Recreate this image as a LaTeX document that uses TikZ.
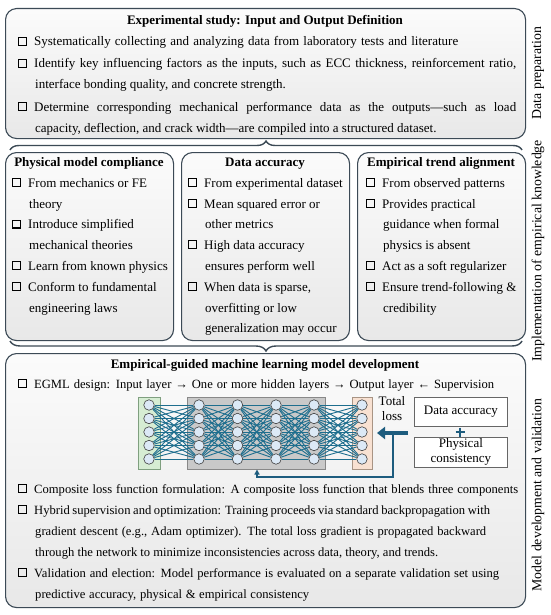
\documentclass[tikz,border=0pt]{standalone}
\usepackage{fontspec}
\setmainfont{Liberation Serif}
\usetikzlibrary{arrows.meta,decorations.pathreplacing}
\pgfdeclarelayer{back}
\pgfdeclarelayer{mid}
\pgfsetlayers{back,mid,main}
\definecolor{edgec}{HTML}{3C4A56}
\definecolor{netc}{HTML}{1E6E8E}
\definecolor{arrc}{HTML}{1D5C7E}
\definecolor{neuf}{HTML}{DCE9F6}
\definecolor{grnf}{HTML}{D6EDD3}
\definecolor{grnd}{HTML}{7F9F7F}
\definecolor{hidf}{HTML}{C9C9C9}
\definecolor{hidd}{HTML}{888888}
\definecolor{orgf}{HTML}{F8E1D2}
\definecolor{orgd}{HTML}{A89484}
\newcommand\fsz{\fontsize{13pt}{15pt}\selectfont}
\newcommand\fsb{\fontsize{12.6pt}{15pt}\selectfont}
\newcommand\fss{\fontsize{13.8pt}{16pt}\selectfont}
\newcommand\myBI[4]{\node[bul] (#1b) at ({#2-11.5},{#3-4.4}) {}; \node[txt] (#1) at (#2,#3) {#4};}
\newcommand\myBJ[5]{\node[bul] (#1b) at ({#2-11.5},{#3-4.4}) {}; \node[txt] (#1) at (#2,#3) {\hbox to #4pt{#5}};}
\newcommand\myTL[4]{\node[txt] (#1) at (#2,#3) {#4};}
\newcommand\myJL[5]{\node[txt] (#1) at (#2,#3) {\hbox to #4pt{#5}};}
\newcommand\myBB[5]{\node[bul] (#1b) at ({#2-11.5},{#3-4.4}) {}; \node[txt,font=\fsb] (#1) at (#2,#3) {\hbox to #4pt{#5}};}
\newcommand\myJB[5]{\node[txt,font=\fsb] (#1) at (#2,#3) {\hbox to #4pt{#5}};}
\begin{document}
\begin{tikzpicture}[x=1pt,y=-1pt,
  txt/.style={anchor=base west,inner sep=0pt,font=\fsz},
  ttl/.style={anchor=base,inner sep=0pt,font=\fsz\bfseries},
  bul/.style={draw=black,line width=1.4pt,minimum size=7.8pt,inner sep=0pt,shape=rectangle},
  bigbox/.style={draw=edgec,line width=1.1pt,rounded corners=11pt,top color=gray!3,bottom color=gray!18,anchor=north west,inner sep=0pt},
  brc/.style={draw=edgec,line width=1.4pt,decorate},
  side/.style={rotate=90,font=\fss,inner sep=0pt},
  neu/.style={circle,draw=black!75,fill=neuf,line width=0.6pt,minimum size=10.5pt,inner sep=0pt},
  syn/.style={draw=netc,line width=0.9pt},
  lay/.style={anchor=north west,inner sep=0pt,line width=0.8pt,minimum height=72pt},
  small/.style={draw=black!60,fill=white,line width=0.7pt,anchor=north west,inner sep=0pt,font=\fsz,align=center,minimum width=93pt}
]
\useasboundingbox (0,0) rectangle (550,615);
\begin{pgfonlayer}{back}
\fill[white] (0,0) rectangle (550,615);
\node[bigbox,minimum width=520pt,minimum height=130pt] (topbox) at (5,8) {};
\node[bigbox,minimum width=168pt,minimum height=188pt] (leftbox) at (5,152) {};
\node[bigbox,minimum width=168pt,minimum height=188pt] (midbox) at (181,152) {};
\node[bigbox,minimum width=168pt,minimum height=188pt] (rightbox) at (357,152) {};
\node[bigbox,minimum width=520pt,minimum height=254pt] (botbox) at (5,353) {};
\node[lay,draw=grnd,fill=grnf,minimum width=22pt] (inl) at (138,397) {};
\node[lay,draw=hidd,fill=hidf,minimum width=138pt] (hidl) at (187,397) {};
\node[lay,draw=orgd,fill=orgf,minimum width=20pt] (outl) at (352,397) {};
\end{pgfonlayer}

% braces
\draw[brc,decoration={brace,amplitude=9pt}] (10,150) -- (522,150);
\draw[brc,decoration={brace,amplitude=10pt}] (522,341) -- (10,341);

% side labels
\node[side] (s1) at (538,73) {Data preparation};
\node[side] (s2) at (538,251) {Implementation of empirical knowledge};
\node[side] (s3) at (538,495) {Model development and validation};

% top box
\node[ttl] (t0) at (265,24.5) {Experimental study: Input and Output Definition};
\myBJ{t1}{34}{46}{424}{Systematically collecting and analyzing data from laboratory tests and literature}
\myBJ{t2}{34}{68}{482}{Identify key influencing factors as the inputs, such as ECC thickness, reinforcement ratio,}
\myTL{t3}{35}{89}{interface bonding quality, and concrete strength.}
\myBJ{t4}{34}{111}{482}{Determine corresponding mechanical performance data as the outputs—such as load}
\myTL{t5}{35}{132}{capacity, deflection, and crack width—are compiled into a structured dataset.}

% left box
\node[ttl] (l0) at (89,166.5) {Physical model compliance};
\myBI{l1}{28}{187}{From mechanics or FE}
\myTL{l2}{29}{208}{theory}
\myBI{l3}{28}{228.5}{Introduce simplified}
\myTL{l4}{29}{249}{mechanical theories}
\myBI{l5}{28}{270}{Learn from known physics}
\myBI{l6}{28}{291}{Conform to fundamental}
\myTL{l7}{29}{312}{engineering laws}

% middle box
\node[ttl] (m0) at (265,166.5) {Data accuracy};
\myBI{m1}{204}{187}{From experimental dataset}
\myBI{m2}{204}{208}{Mean squared error or}
\myTL{m3}{205}{228.5}{other metrics}
\myBI{m4}{204}{249}{High data accuracy}
\myTL{m5}{205}{270}{ensures perform well}
\myBI{m6}{204}{291}{When data is sparse,}
\myTL{m7}{205}{312}{overfitting or low}
\myTL{m8}{205}{332}{generalization may occur}

% right box
\node[ttl] (r0) at (441,166.5) {Empirical trend alignment};
\myBI{r1}{382}{187}{From observed patterns}
\myBI{r2}{382}{208}{Provides practical}
\myTL{r3}{383}{228.5}{guidance when formal}
\myTL{r4}{383}{249}{physics is absent}
\myBI{r5}{382}{270}{Act as a soft regularizer}
\myBI{r6}{382}{291}{Ensure trend-following \&}
\myTL{r7}{383}{312}{credibility}

% bottom box
\node[ttl] (b0) at (265,368.5) {Empirical-guided machine learning model development};
\myBB{b1}{34}{388}{460}{EGML design: Input layer → One or more hidden layers → Output layer ← Supervision}
\myBB{b2}{34}{493}{484}{Composite loss function formulation: A composite loss function that blends three components}
\myBB{b3}{34}{514}{456}{Hybrid supervision and optimization: Training proceeds via standard backpropagation with}
\myJB{b4}{35}{535}{451}{gradient descent (e.g., Adam optimizer). The total loss gradient is propagated backward}
\myJB{b5}{35}{556}{403}{through the network to minimize inconsistencies across data, theory, and trends.}
\myBB{b6}{34}{577}{465}{Validation and election: Model performance is evaluated on a separate validation set using}
\myJB{b7}{35}{598}{274}{predictive accuracy, physical \& empirical consistency}

% network
\foreach \c/\x in {0/149,1/199,2/237.5,3/276,4/314,5/362}
  \foreach \y [count=\r] in {405,418.5,432,445.5,459}
    \node[neu] (n\c-\r) at (\x,\y) {};
\begin{pgfonlayer}{mid}
\foreach \c [evaluate=\c as \d using int(\c+1)] in {0,...,4}
  \foreach \r in {1,...,5}
    \foreach \s in {1,...,5}
      \draw[syn] (n\c-\r) -- (n\d-\s);
\end{pgfonlayer}

\node[font=\fsz,inner sep=0pt,align=center] (tl) at (392,409) {Total\\loss};
\node[small,minimum height=29pt] (da) at (414,397) {Data accuracy};
\node[small,minimum height=30pt] (pc) at (414,437) {Physical\\consistency};
\draw[arrc,line width=2.4pt] (455.5,432) -- (464.5,432) (460,427.5) -- (460,436.5);

\coordinate (as) at (408,433);
\coordinate (ae) at (377,433);
\coordinate (fb) at (393,434);
\coordinate (fbc) at (257,469.5);
\draw[arrc,line width=1.3pt,-{Triangle[length=5pt,width=5pt]}] (fb) -- (393,477) -- (257,477) -- (fbc);
\draw[arrc,line width=4.5pt,-{Triangle[length=8pt,width=12pt]}] (as) -- (ae);
\end{tikzpicture}
\end{document}
